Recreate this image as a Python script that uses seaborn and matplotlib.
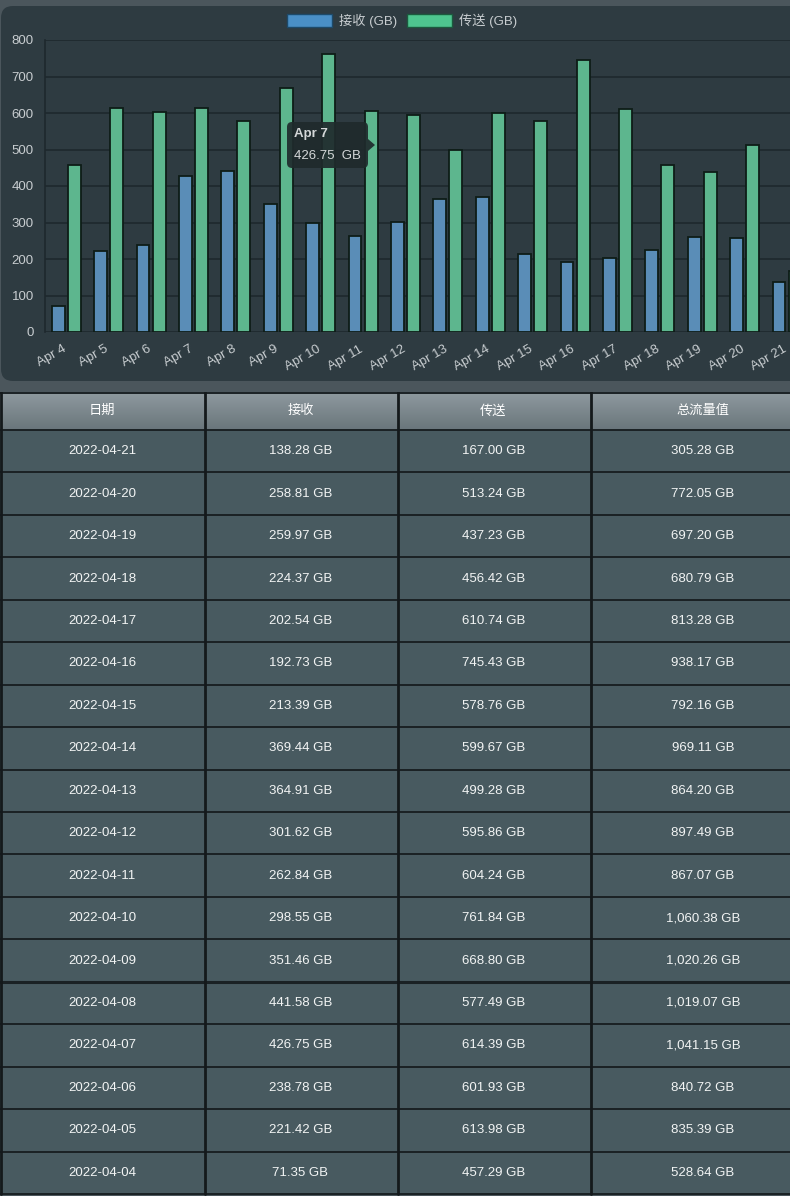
import numpy as np
import pandas as pd
import matplotlib
matplotlib.use("Agg")
import matplotlib.pyplot as plt
import seaborn as sns
from matplotlib.patches import FancyBboxPatch, Rectangle, Patch, Polygon
from matplotlib.transforms import IdentityTransform, ScaledTranslation
from matplotlib.colors import LinearSegmentedColormap

# ---------------- data ----------------
days = ["Apr 4", "Apr 5", "Apr 6", "Apr 7", "Apr 8", "Apr 9", "Apr 10", "Apr 11", "Apr 12",
        "Apr 13", "Apr 14", "Apr 15", "Apr 16", "Apr 17", "Apr 18", "Apr 19", "Apr 20", "Apr 21"]
dates = ["2022-04-04", "2022-04-05", "2022-04-06", "2022-04-07", "2022-04-08", "2022-04-09",
         "2022-04-10", "2022-04-11", "2022-04-12", "2022-04-13", "2022-04-14", "2022-04-15",
         "2022-04-16", "2022-04-17", "2022-04-18", "2022-04-19", "2022-04-20", "2022-04-21"]
received = [71.35, 221.42, 238.78, 426.75, 441.58, 351.46, 298.55, 262.84, 301.62,
            364.91, 369.44, 213.39, 192.73, 202.54, 224.37, 259.97, 258.81, 138.28]
sent = [457.29, 613.98, 601.93, 614.39, 577.49, 668.80, 761.84, 604.24, 595.86,
        499.28, 599.67, 578.76, 745.43, 610.74, 456.42, 437.23, 513.24, 167.00]
totals = [528.64, 835.39, 840.72, 1041.15, 1019.07, 1020.26, 1060.38, 867.07, 897.49,
          864.20, 969.11, 792.16, 938.17, 813.28, 680.79, 697.20, 772.05, 305.28]
series_names = ["接收 (GB)", "传送 (GB)"]
table_headers = ["日期", "接收", "传送", "总流量值"]
y_ticks = [0, 100, 200, 300, 400, 500, 600, 700, 800]
tooltip_index = 3

# ---------------- style ----------------
sns.set_theme(style="dark")
plt.rcParams["font.family"] = ["Liberation Sans", "Noto Sans CJK SC", "DejaVu Sans"]

W, H = 790, 1196
fig = plt.figure(figsize=(W / 100, H / 100), dpi=100)
fig.patch.set_facecolor("#4b565c")

BLUE = "#4a8fc6"
GREEN = "#4ec58f"
PANEL = "#2e3b41"
GRID = "#1e282d"
TICK = "#c8cdd0"

# chart panel (rounded)
panel = FancyBboxPatch((1, H - 381), 830, 375,
                       boxstyle="round,pad=0,rounding_size=12",
                       transform=IdentityTransform(), facecolor=PANEL,
                       edgecolor="none", zorder=-10)
fig.add_artist(panel)

# ---------------- bar chart ----------------
ax = fig.add_axes([45 / W, (H - 332) / H, (W - 45) / W, 292 / H])
ax.set_facecolor("none")
df = pd.DataFrame({
    "day": days * 2,
    "series": [series_names[0]] * len(days) + [series_names[1]] * len(days),
    "value": received + sent,
})
sns.barplot(data=df, x="day", y="value", hue="series", hue_order=series_names,
            palette=[BLUE, GREEN], width=0.76, gap=0.2, edgecolor="#0e1d17",
            linewidth=1.3, ax=ax, legend=False, zorder=3)
ax.set_xlim(-0.5, 17.07)
ax.set_ylim(0, 800)
ax.set_yticks(y_ticks)
ax.set_xlabel("")
ax.set_ylabel("")
ax.yaxis.grid(True, color=GRID, lw=1.2)
ax.xaxis.grid(False)
ax.set_axisbelow(True)
for s in ["top", "right", "bottom"]:
    ax.spines[s].set_visible(False)
ax.spines["left"].set_color(GRID)
ax.spines["left"].set_linewidth(1.2)
ax.tick_params(axis="y", colors=TICK, labelsize=9.5, length=0, pad=8)
ax.tick_params(axis="x", colors=TICK, labelsize=9.5, length=0, pad=8)
shift = ScaledTranslation(-4 / 100, 0, fig.dpi_scale_trans)
for lab in ax.get_xticklabels():
    lab.set_rotation(30)
    lab.set_ha("right")
    lab.set_va("top")
    lab.set_rotation_mode("anchor")
    lab.set_transform(lab.get_transform() + shift)

# legend
handles = [Patch(facecolor=BLUE, edgecolor="#1d4a6a", lw=1),
           Patch(facecolor=GREEN, edgecolor="#1b5a3e", lw=1)]
fig.legend(handles=handles, labels=series_names, loc="center",
           bbox_to_anchor=(402 / W, 1 - 21 / H), ncol=2, frameon=False,
           handlelength=3.4, handleheight=1.1, columnspacing=0.8,
           handletextpad=0.5, labelcolor=TICK, fontsize=9.5)

# tooltip
tip = FancyBboxPatch((287, H - 168), 81, 46, boxstyle="round,pad=0,rounding_size=5",
                     transform=IdentityTransform(), facecolor="#1f2a2c",
                     edgecolor="none", alpha=0.92, zorder=20)
fig.add_artist(tip)
tri = Polygon([(368, H - 139), (375, H - 145), (368, H - 151)], closed=True,
              transform=IdentityTransform(), facecolor="#1f2a2c", edgecolor="none",
              alpha=0.92, zorder=20)
fig.add_artist(tri)
fig.text(294, H - 134, days[tooltip_index], transform=IdentityTransform(),
         color="#d4d7d8", fontsize=9.5, fontweight="bold", va="center", ha="left", zorder=21)
fig.text(294, H - 156, f"{received[tooltip_index]:.2f}  GB", transform=IdentityTransform(),
         color="#d4d7d8", fontsize=9.5, va="center", ha="left", zorder=21)

# ---------------- table ----------------
TOP, HEAD_B, BOT = 392, 430, 1194
row_h = (BOT - HEAD_B) / len(dates)
col_edges = [0, 204, 397, 590, 816]
col_centers = [102, 300.5, 493.5, 703]

tab = fig.add_axes([0, 0, 1, (H - TOP) / H])
tab.axis("off")
cmap = LinearSegmentedColormap.from_list("hdr", ["#8f9a9f", "#69757b"])
tab.imshow(np.linspace(0, 1, 60).reshape(-1, 1), extent=[0, W, HEAD_B, TOP],
           cmap=cmap, aspect="auto", interpolation="bilinear")
tab.set_xlim(0, W)
tab.set_ylim(H, TOP)

for j, h in enumerate(table_headers):
    tab.text(col_centers[j], (TOP + HEAD_B) / 2, h, ha="center", va="center",
             color="#ffffff", fontsize=9.5)

rows = list(zip(dates, received, sent, totals))[::-1]
for i, (d, r, s, t) in enumerate(rows):
    y0 = HEAD_B + i * row_h
    tab.add_patch(Rectangle((0, y0), W, row_h, facecolor="#485a60", edgecolor="none", zorder=1))
    vals = [d, f"{r:,.2f} GB", f"{s:,.2f} GB", f"{t:,.2f} GB"]
    for j, v in enumerate(vals):
        tab.text(col_centers[j], y0 + row_h / 2, v, ha="center", va="center",
                 color="#f2f4f4", fontsize=9.5, zorder=3)

for i in range(len(rows) + 1):
    y = HEAD_B + i * row_h
    lw = 2.2 if i == 13 else 1.4
    tab.plot([0, W], [y, y], color="#1a2124", lw=lw, zorder=2)
tab.plot([0, W], [TOP + 0.5, TOP + 0.5], color="#1a2124", lw=1.4, zorder=2)
for x in col_edges[:-1]:
    tab.plot([x + 1, x + 1], [TOP, BOT], color="#14191b", lw=2, zorder=2)

fig.savefig("out.png", dpi=100, facecolor=fig.get_facecolor())
